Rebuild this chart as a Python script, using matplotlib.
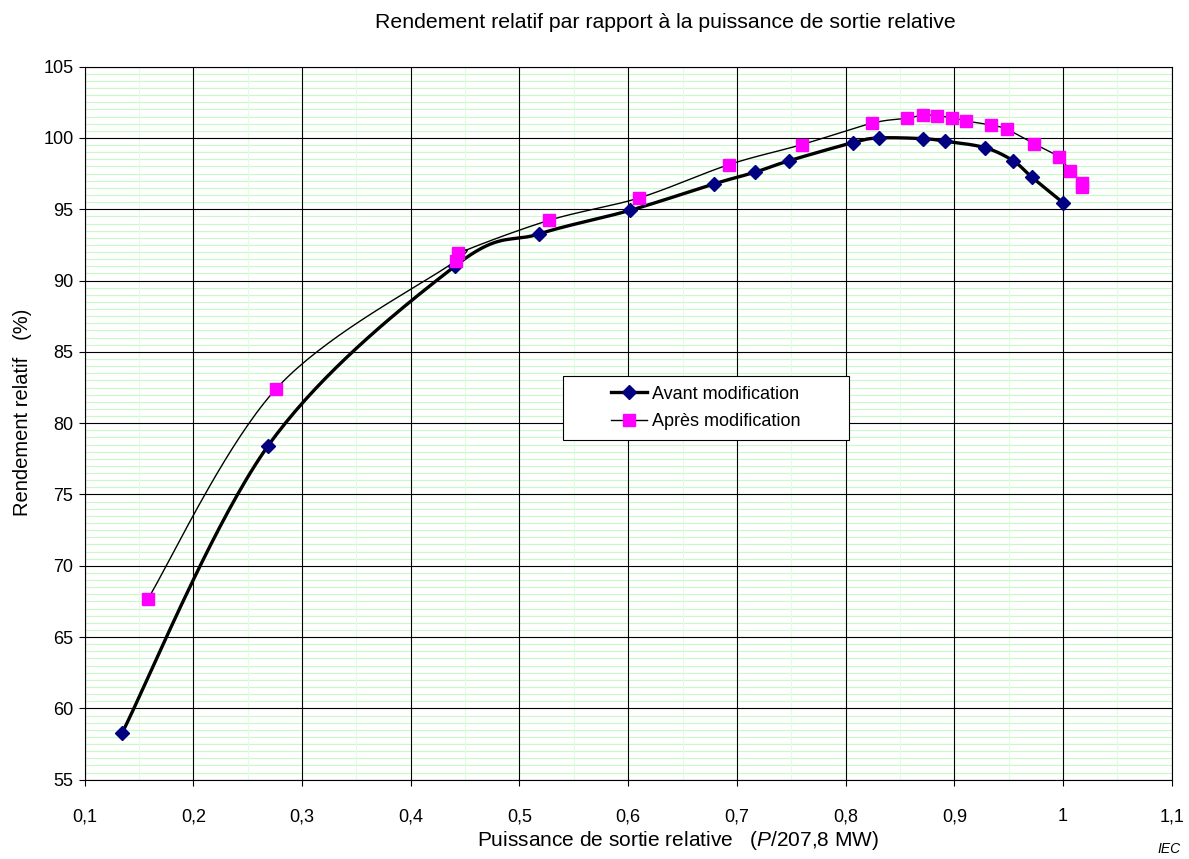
import matplotlib.pyplot as plt
import numpy as np
from matplotlib.lines import Line2D
from matplotlib.patches import Rectangle

plt.rcParams['font.family'] = ['Liberation Sans', 'DejaVu Sans']
plt.rcParams['mathtext.fontset'] = 'custom'
plt.rcParams['mathtext.rm'] = 'Liberation Sans'
plt.rcParams['mathtext.it'] = 'Liberation Sans:italic'

# Avant modification (losanges bleus)
avant_x = [0.1346, 0.2686, 0.4407, 0.5180, 0.6019, 0.6789, 0.7167, 0.7475,
           0.8065, 0.8304, 0.8715, 0.8917, 0.9282, 0.9543, 0.9715, 1.0000]
avant_y = [58.3, 78.4, 91.02, 93.27, 94.93, 96.78, 97.6, 98.39,
           99.67, 100.0, 99.95, 99.77, 99.32, 98.39, 97.24, 95.46]

# Après modification (carrés roses)
apres_x = [0.1580, 0.2760, 0.4416, 0.4437, 0.5274, 0.6102, 0.6927, 0.7595,
           0.8240, 0.8568, 0.8710, 0.8838, 0.8982, 0.9108, 0.9335, 0.9482,
           0.9733, 0.9960, 1.0067, 1.0175, 1.0175]
apres_y = [67.65, 82.4, 91.4, 91.91, 94.23, 95.8, 98.13, 99.53,
           101.03, 101.38, 101.61, 101.56, 101.42, 101.19, 100.91, 100.61,
           99.6, 98.67, 97.65, 96.85, 96.55]

xticks = [0.1, 0.2, 0.3, 0.4, 0.5, 0.6, 0.7, 0.8, 0.9, 1.0, 1.1]
xtick_labels = ['0,1', '0,2', '0,3', '0,4', '0,5', '0,6', '0,7', '0,8', '0,9', '1', '1,1']
yticks = [55, 60, 65, 70, 75, 80, 85, 90, 95, 100, 105]


def excel_smooth(ax, xs, ys, n=40):
    """Courbe lissée façon Excel (Bézier, points de contrôle à 1/6)"""
    pts = ax.transData.transform(np.column_stack([xs, ys]))
    out = [pts[0]]
    t = np.linspace(0, 1, n)[1:, None]
    for i in range(len(pts) - 1):
        p0 = pts[i - 1] if i > 0 else pts[i]
        p1 = pts[i]
        p2 = pts[i + 1]
        p3 = pts[i + 2] if i + 2 < len(pts) else pts[i + 1]
        c1 = p1 + (p2 - p0) / 6
        c2 = p2 - (p3 - p1) / 6
        seg = (1 - t) ** 3 * p1 + 3 * (1 - t) ** 2 * t * c1 + 3 * (1 - t) * t ** 2 * c2 + t ** 3 * p2
        out.extend(seg)
    return ax.transData.inverted().transform(np.array(out))


fig = plt.figure(figsize=(11.89, 8.59), dpi=100)
ax = fig.add_axes([0.0712, 0.0923, 0.9143, 0.8301])
ax.set_xlim(0.1, 1.1)
ax.set_ylim(55, 105)

# Grille (mineure verte, majeure noire)
minor_y = np.arange(55, 105.01, 0.5)
minor_x = np.arange(0.15, 1.1, 0.1)
ax.hlines(minor_y, 0.1, 1.1, colors='#c8fac8', lw=0.8, zorder=0.5)
ax.vlines(minor_x, 55, 105, colors='#e2fce2', lw=0.8, zorder=0.6)
ax.hlines(yticks, 0.1, 1.1, colors='black', lw=0.8, zorder=1)
ax.vlines(xticks, 55, 105, colors='black', lw=0.8, zorder=1)

ax.set_xticks(xticks)
ax.set_xticklabels(xtick_labels)
ax.set_yticks(yticks)
ax.tick_params(which='major', direction='out', length=4.5, width=0.8, labelsize=13)
ax.tick_params(axis='x', pad=16)
ax.tick_params(axis='y', pad=3.6)
for s in ax.spines.values():
    s.set_linewidth(0.8)

# Courbes
av_s = excel_smooth(ax, avant_x, avant_y)
ap_s = excel_smooth(ax, apres_x, apres_y)
ax.plot(av_s[:, 0], av_s[:, 1], color='black', lw=2.4, zorder=3, solid_capstyle='round')
ax.plot(ap_s[:, 0], ap_s[:, 1], color='black', lw=1.0, zorder=3)
ax.plot(avant_x, avant_y, ls='none', marker='D', ms=7, color='#000080', zorder=4)
ax.plot(apres_x, apres_y, ls='none', marker='s', ms=8, color='#ff00ff', zorder=4)

# Légende
ax.add_patch(Rectangle((0.4397, 0.4764), 0.2632, 0.0898, transform=ax.transAxes,
                       facecolor='white', edgecolor='black', lw=0.8, zorder=6))
handles = [
    Line2D([], [], color='black', lw=2.4, marker='D', ms=7, mfc='#000080', mec='#000080'),
    Line2D([], [], color='black', lw=1.0, marker='s', ms=8, mfc='#ff00ff', mec='#ff00ff'),
]
leg = ax.legend(handles, ['Avant modification', 'Après modification'], loc='center',
                bbox_to_anchor=(0.5713, 0.5213), frameon=False, fontsize=13,
                handlelength=2.0, handletextpad=0.3, labelspacing=0.6)
leg.set_zorder(7)

fig.text(0.560, 0.974, 'Rendement relatif par rapport à la puissance de sortie relative',
         ha='center', va='center', fontsize=15.3)
fig.text(0.570, 0.021, r'Puissance de sortie relative   ($\mathit{P}$/207,8 MW)',
         ha='center', va='center', fontsize=15)
fig.text(0.019, 0.52, 'Rendement relatif   (%)', rotation=90,
         ha='center', va='center', fontsize=14.5)
fig.text(0.993, 0.003, 'IEC', style='italic', ha='right', va='bottom', fontsize=10)

fig.savefig('out.png', dpi=100)
